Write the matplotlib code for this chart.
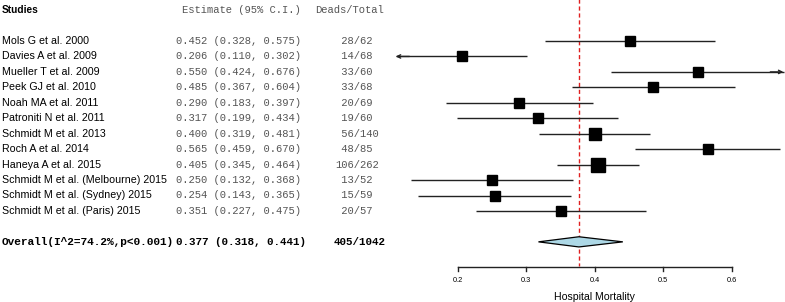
import numpy as np
import matplotlib
matplotlib.use("Agg")
import matplotlib.pyplot as plt
from matplotlib.transforms import blended_transform_factory

# data
studies = ["Mols G et al. 2000", "Davies A et al. 2009", "Mueller T et al. 2009",
           "Peek GJ et al. 2010", "Noah MA et al. 2011", "Patroniti N et al. 2011",
           "Schmidt M et al. 2013", "Roch A et al. 2014", "Haneya A et al. 2015",
           "Schmidt M et al. (Melbourne) 2015", "Schmidt M et al. (Sydney) 2015",
           "Schmidt M et al. (Paris) 2015"]
estimate = [0.452, 0.206, 0.550, 0.485, 0.290, 0.317, 0.400, 0.565, 0.405, 0.250, 0.254, 0.351]
lower = [0.328, 0.110, 0.424, 0.367, 0.183, 0.199, 0.319, 0.459, 0.345, 0.132, 0.143, 0.227]
upper = [0.575, 0.302, 0.676, 0.604, 0.397, 0.434, 0.481, 0.670, 0.464, 0.368, 0.365, 0.475]
deads = [28, 14, 33, 33, 20, 19, 56, 48, 106, 13, 15, 20]
totals = [62, 68, 60, 68, 69, 60, 140, 85, 262, 52, 59, 57]

overall_label = "Overall(I^2=74.2%,p<0.001)"
overall_est, overall_lo, overall_hi = 0.377, 0.318, 0.441
overall_deads, overall_total = 405, 1042

xticks = [0.2, 0.3, 0.4, 0.5, 0.6]
xlabel = "Hospital Mortality"

# figure geometry (pixels of the 785x302 output)
W, H = 785, 302
x0_px, x_scale = 457.5, 686.0      # pixel of 0.2, pixels per unit
row0_px, row_px = 41.0, 15.45      # pixel of first row, row spacing

fig = plt.figure(figsize=(W / 100, H / 100), dpi=100)
ax = fig.add_axes([0, 0, 1, 1])
ax.set_xlim(0.2 - x0_px / x_scale, 0.2 + (W - x0_px) / x_scale)
ax.set_ylim((H - row0_px) / row_px, -row0_px / row_px)
ax.axis("off")

tr = blended_transform_factory(ax.transAxes, ax.transData)
def px(p):
    return p / W

sans = ["Liberation Sans", "DejaVu Sans"]
mono = ["Liberation Mono", "DejaVu Sans Mono"]
grey = "#555555"

n = len(studies)
rows = np.arange(n)
overall_row = n + 1
axis_row = (267 - row0_px) / row_px
header_row = (10 - row0_px) / row_px

# headers
ax.text(px(2), header_row, "Studies", transform=tr, family=sans, fontsize=7.3,
        fontweight="bold", va="center", ha="left")
ax.text(px(182), header_row, "Estimate (95% C.I.)", transform=tr, family=mono,
        fontsize=7.6, color=grey, va="center", ha="left")
ax.text(px(315), header_row, "Deads/Total", transform=tr, family=mono,
        fontsize=7.6, color=grey, va="center", ha="left")

# study rows
for i in range(n):
    ax.text(px(2), rows[i], studies[i], transform=tr, family=sans, fontsize=7.7,
            va="center", ha="left")
    ax.text(px(176), rows[i], f"{estimate[i]:.3f} ({lower[i]:.3f}, {upper[i]:.3f})",
            transform=tr, family=mono, fontsize=7.6, color=grey, va="center", ha="left")
    ax.text(px(335), rows[i], f"{deads[i]:>3}/{totals[i]}", transform=tr, family=mono,
            fontsize=7.6, color=grey, va="center", ha="left")

# overall row
ax.text(px(2), overall_row, overall_label, transform=tr, family=mono, fontsize=8.0,
        fontweight="bold", va="center", ha="left")
ax.text(px(176), overall_row, f"{overall_est:.3f} ({overall_lo:.3f}, {overall_hi:.3f})",
        transform=tr, family=mono, fontsize=7.8, fontweight="bold", va="center", ha="left")
ax.text(px(334), overall_row, f"{overall_deads}/{overall_total}", transform=tr,
        family=mono, fontsize=7.8, fontweight="bold", va="center", ha="left")

# reference line at pooled estimate
ax.plot([overall_est, overall_est], [header_row - 1, axis_row - 0.05], color="#e02020",
        lw=1, ls=(0, (3, 2)), zorder=1)

# confidence intervals; arrows where they run off the plotted range
xmin_a, xmax_a = 0.11, 0.676
for i in range(n):
    lo, hi = lower[i], upper[i]
    ax.plot([lo, hi], [rows[i], rows[i]], color="#222222", lw=1, zorder=2,
            solid_capstyle="butt")
    if lo <= xmin_a:
        ax.annotate("", xy=(lo, rows[i]), xytext=(lo + 0.02, rows[i]),
                    arrowprops=dict(arrowstyle="->", color="#222222", lw=1,
                                    shrinkA=0, shrinkB=0, mutation_scale=6))
    if hi >= xmax_a:
        ax.annotate("", xy=(hi - 0.001, rows[i]), xytext=(hi - 0.02, rows[i]),
                    arrowprops=dict(arrowstyle="->", color="#222222", lw=1,
                                    shrinkA=0, shrinkB=0, mutation_scale=6))

# square size from precision (1/se)
se = (np.array(upper) - np.array(lower)) / 3.92
w = 1 / se
size_px = 9.3 + 4.4 * (w - w.min()) / (w.max() - w.min())
for i in range(n):
    ax.plot(estimate[i], rows[i], marker="s", ms=size_px[i] * 0.72, color="black",
            mec="black", zorder=3)

# summary diamond
dh = 0.33
ax.fill([overall_lo, overall_est, overall_hi, overall_est],
        [overall_row, overall_row - dh, overall_row, overall_row + dh],
        facecolor="#add8e6", edgecolor="black", lw=0.9, zorder=3)

# x axis drawn by hand
ax.plot([xticks[0], xticks[-1]], [axis_row, axis_row], color="#222222", lw=1)
tick_len = 4 / row_px
for t in xticks:
    ax.plot([t, t], [axis_row, axis_row + tick_len], color="#222222", lw=1)
    ax.text(t, (280 - row0_px) / row_px, f"{t:.1f}", family=sans, fontsize=5.3,
            ha="center", va="center")
ax.text(np.mean([xticks[0], xticks[-1]]), (297 - row0_px) / row_px, xlabel,
        family=sans, fontsize=7.6, ha="center", va="center")

fig.savefig("out.png", dpi=100)
